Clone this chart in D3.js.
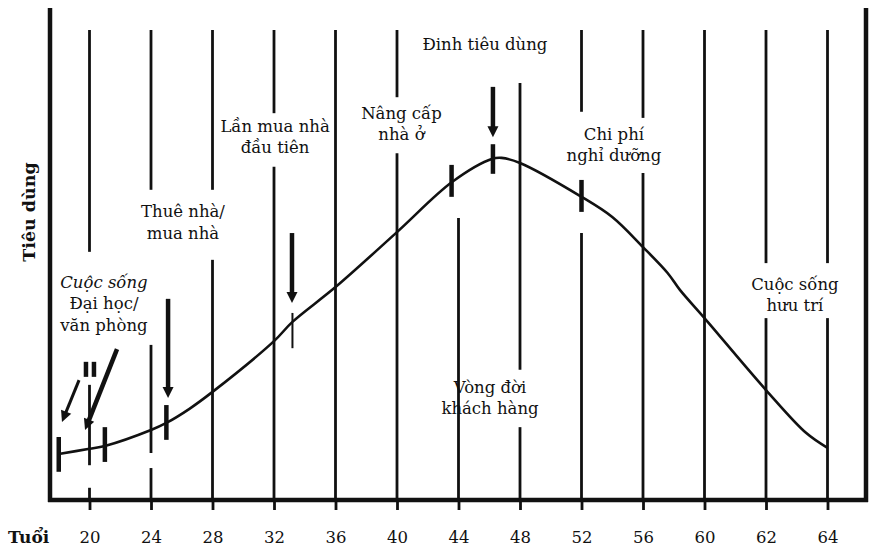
<!DOCTYPE html>
<html>
<head>
<meta charset="utf-8">
<script src="https://cdn.jsdelivr.net/npm/d3@7"></script>
<style>
  body { margin: 0; background: #fff; }
  svg text { font-family: "DejaVu Serif", serif; fill: #111; }
</style>
</head>
<body>
<svg id="chart"></svg>
<script>
// ages on the x axis (drawn evenly spaced, as in the original)
const ages = [20, 24, 28, 32, 36, 40, 44, 48, 52, 56, 60, 62, 64];

// consumption curve: age -> relative spending (0-100)
const curveAges   = [18, 20, 21, 24, 25, 26.5, 28, 32, 33.2, 36, 40, 43.6, 46.2, 46.8, 48, 52, 54, 56, 57.6, 58.4, 60, 62, 63.3, 64];
const curveValues = [9.8, 10.9, 11.5, 14.9, 16.4, 19.4, 23.0, 33.8, 37.9, 45.3, 57.0, 67.7, 72.6, 72.8, 71.7, 64.5, 60.2, 53.8, 48.3, 44.7, 38.7, 23.4, 14.3, 11.1];

// short vertical marks on the curve
const markerAges = [18, 19.77, 20.29, 21, 25, 33.2, 43.55, 46.24, 52];
const markerLow  = [6.0, 26.2, 26.2, 8.1, 12.8, 32.3, 64.5, 69.4, 61.3];
const markerHigh = [13.4, 29.4, 29.4, 15.5, 20.2, 39.8, 71.3, 75.7, 68.1];
const markerBold = [true, true, true, true, true, false, true, true, true];

// arrows pointing at life stages
const arrowFromAge = [19.32, 21.79, 25.11, 33.17, 46.24];
const arrowFromVal = [25.5, 32.1, 42.8, 56.8, 87.9];
const arrowToAge   = [18.21, 19.71, 25.11, 33.17, 46.24];
const arrowToVal   = [16.6, 14.9, 21.7, 41.9, 77.2];

// vertical lines for each age, broken where the labels sit (value ranges)
const gridSegments = [
  [[100, 52.8], [24.5, 7.4], [2.6, 0]],
  [[100, 66.0], [33.0, 10.0], [6.8, 0]],
  [[100, 66.0], [51.1, 0]],
  [[100, 82.3], [70.9, 0]],
  [[100, 0]],
  [[100, 85.7], [73.8, 0]],
  [[60.0, 0]],
  [[88.7, 27.7], [15.5, 0]],
  [[100, 82.6], [56.8, 0]],
  [[100, 81.3], [69.6, 0]],
  [[100, 0]],
  [[100, 50.4], [38.7, 0]],
  [[100, 50.4], [38.7, 0]]
];

// stage labels
const labelTexts = [
  ["Đinh tiêu dùng"],
  ["Lần mua nhà", "đầu tiên"],
  ["Nâng cấp", "nhà ở"],
  ["Chi phí", "nghỉ dưỡng"],
  ["Thuê nhà/", "mua nhà"],
  ["Cuộc sống", "Đại học/", "văn phòng"],
  ["Vòng đời", "khách hàng"],
  ["Cuộc sống", "hưu trí"]
];
const labelAges   = [45.72, 32.07, 40.29, 54.11, 26.08, 20.94, 46.05, 62.94];
const labelValues = [95.7, 78.3, 81.1, 76.6, 60.2, 45.1, 22.8, 44.7];
const labelItalic = [5]; // first line of this label is italic

const yLabel = "Tiêu dùng";
const xLabel = "Tuổi";

const width = 870, height = 550;
const margin = { top: 30, left: 50, right: 866, bottom: 500 };

const svg = d3.select("#chart")
    .attr("width", width)
    .attr("height", height);

const xPoint = d3.scalePoint()
    .domain(ages)
    .range([89.5, 827.5]);

// piecewise linear so in-between ages land in the right slot
const x = d3.scaleLinear()
    .domain(ages)
    .range(ages.map(a => xPoint(a)));

const y = d3.scaleLinear()
    .domain([0, 100])
    .range([margin.bottom, margin.top]);

// grid lines
ages.forEach((a, i) => {
    gridSegments[i].forEach(seg => {
        svg.append("line")
            .attr("x1", x(a)).attr("x2", x(a))
            .attr("y1", y(seg[0])).attr("y2", y(seg[1]))
            .attr("stroke", "#111")
            .attr("stroke-width", 2.8);
    });
});

// x axis ticks and labels
const xAxis = svg.append("g")
    .attr("transform", `translate(0,${margin.bottom})`)
    .call(d3.axisBottom(x).tickValues(ages).tickFormat(d3.format("d"))
        .tickSize(10).tickPadding(21));
xAxis.select(".domain").remove();
xAxis.selectAll(".tick line")
    .attr("stroke", "#111")
    .attr("stroke-width", 2.8);
xAxis.selectAll(".tick text")
    .attr("font-family", "DejaVu Serif")
    .attr("font-size", "16.5px")
    .attr("fill", "#111");

// frame
const frame = [
    [margin.left, 8, margin.left, margin.bottom + 2],
    [margin.right, 8, margin.right, margin.bottom + 2],
    [margin.left - 2, margin.bottom, margin.right + 2, margin.bottom]
];
frame.forEach(f => {
    svg.append("line")
        .attr("x1", f[0]).attr("y1", f[1])
        .attr("x2", f[2]).attr("y2", f[3])
        .attr("stroke", "#111")
        .attr("stroke-width", 4.5);
});

// consumption curve
const line = d3.line()
    .x(d => x(d[0]))
    .y(d => y(d[1]))
    .curve(d3.curveCatmullRom.alpha(0.5));

svg.append("path")
    .datum(d3.zip(curveAges, curveValues))
    .attr("fill", "none")
    .attr("stroke", "#111")
    .attr("stroke-width", 2.6)
    .attr("d", line);

// markers
markerAges.forEach((a, i) => {
    svg.append("line")
        .attr("x1", x(a)).attr("x2", x(a))
        .attr("y1", y(markerLow[i])).attr("y2", y(markerHigh[i]))
        .attr("stroke", "#111")
        .attr("stroke-width", markerBold[i] ? 4.5 : 2);
});

// arrows
arrowFromAge.forEach((a, i) => {
    const x1 = x(a), y1 = y(arrowFromVal[i]);
    const x2 = x(arrowToAge[i]), y2 = y(arrowToVal[i]);
    const len = Math.hypot(x2 - x1, y2 - y1);
    const ux = (x2 - x1) / len, uy = (y2 - y1) / len;
    const headL = 11, headW = 5.5;
    const bx = x2 - ux * headL, by = y2 - uy * headL;
    svg.append("line")
        .attr("x1", x1).attr("y1", y1)
        .attr("x2", bx + ux * 2).attr("y2", by + uy * 2)
        .attr("stroke", "#111")
        .attr("stroke-width", i === 0 ? 3 : 4.5);
    svg.append("polygon")
        .attr("points", [
            [x2, y2],
            [bx - uy * headW, by + ux * headW],
            [bx + uy * headW, by - ux * headW]
        ].map(p => p.join(",")).join(" "))
        .attr("fill", "#111");
});

// stage labels
labelTexts.forEach((lines, i) => {
    const t = svg.append("text")
        .attr("x", x(labelAges[i]))
        .attr("y", y(labelValues[i]))
        .attr("text-anchor", "middle")
        .attr("font-size", "16.5px");
    lines.forEach((s, j) => {
        t.append("tspan")
            .attr("x", x(labelAges[i]))
            .attr("dy", j === 0 ? 0 : "1.3em")
            .attr("font-style", (j === 0 && labelItalic.includes(i)) ? "italic" : "normal")
            .text(s);
    });
});

// axis titles
svg.append("text")
    .attr("transform", "translate(35,212) rotate(-90)")
    .attr("text-anchor", "middle")
    .attr("font-weight", "bold")
    .attr("font-size", "17.5px")
    .text(yLabel);

svg.append("text")
    .attr("x", 8)
    .attr("y", 543)
    .attr("font-weight", "bold")
    .attr("font-size", "17px")
    .text(xLabel);
</script>
</body>
</html>
